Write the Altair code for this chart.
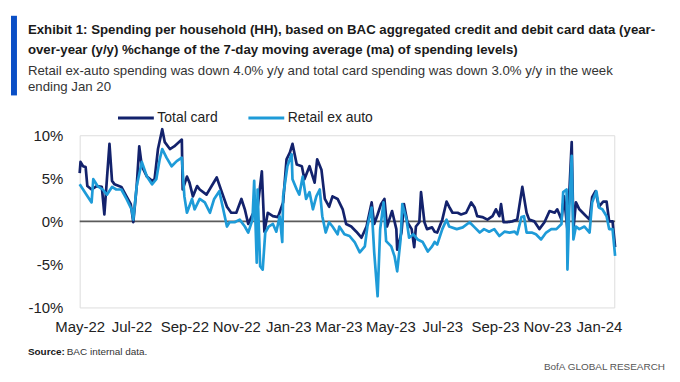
import altair as alt
import pandas as pd

# ---------------- data ----------------
start_date = "2022-05-01"
series_names = ["Total card", "Retail ex auto"]
series_colors = ["#13226C", "#1E9BD8"]

# days since 2022-05-01 and y/y % change
total_days = [0,1,4,7,9,14,20,26,29,32,35,38,41,49,55,60,63,67,70,73,79,85,88,92,97,100,106,111,120,121,
              126,129,133,138,141,149,155,161,167,173,178,184,190,194,198,203,209,214,217,221,227,233,239,243,
              247,250,255,261,264,270,276,279,284,288,293,297,303,309,313,319,325,331,337,343,346,350,354,358,
              361,367,372,373,378,381,385,390,393,395,399,401,405,408,414,417,420,426,431,434,438,444,448,454,
              460,464,467,473,479,485,489,493,495,498,502,508,514,520,525,528,534,540,546,552,558,561,566,569,
              573,575,578,580,583,587,593,599,602,606,610,615,619,622,626,629]
total_vals = [5.6,6.9,6.4,6.3,4.1,3.7,4.1,4.0,0.8,4.9,9.0,4.7,4.3,4.0,2.9,2.0,-0.1,4.1,8.7,6.4,5.2,4.7,4.9,8.4,
              10.7,9.2,8.4,8.7,9.5,3.7,5.2,4.5,2.9,4.1,3.7,3.1,4.1,5.1,3.4,1.7,1.0,1.0,2.6,1.4,-0.3,0.8,1.6,5.8,
              -1.2,1.0,0.6,0.5,2.2,7.2,8.0,9.0,6.6,6.4,4.9,6.4,4.5,7.2,6.0,2.6,1.7,2.9,2.6,1.4,-0.3,-0.6,-1.2,
              -1.9,-0.6,2.2,-0.3,0.8,2.0,2.6,-0.6,1.2,-0.9,-3.3,-1.3,2.0,-0.1,-0.9,-3.0,-0.6,-0.1,3.4,-0.1,-0.9,
              -0.7,-1.2,-1.3,0.2,2.3,1.7,1.0,1.0,0.8,1.0,2.2,1.6,0.6,0.5,0.2,0.6,1.4,0.6,2.0,-0.1,-0.1,0.0,0.2,
              4.0,1.0,0.2,0.0,-0.9,-0.1,1.2,1.0,1.4,0.2,2.9,-1.0,2.9,9.2,-0.9,2.2,1.4,0.8,0.2,2.8,3.5,1.7,2.3,
              2.3,0.0,0.0,-3.0]

retail_days = [0,4,8,14,16,21,27,32,38,43,49,55,61,63,67,73,79,85,90,94,97,102,108,114,120,123,126,132,135,
               141,147,153,158,164,168,173,176,182,188,194,198,203,205,208,209,212,215,218,222,227,231,235,238,
               239,244,249,250,255,258,262,266,270,274,278,282,285,289,293,297,303,305,311,317,323,329,335,338,
               343,346,350,353,357,360,366,370,373,377,379,384,387,392,397,403,409,414,417,420,426,431,434,443,
               450,458,464,470,475,481,487,493,499,505,511,514,519,522,525,531,536,542,548,554,560,566,568,572,
               573,575,578,580,583,587,593,599,602,607,610,614,619,622,626,629]
retail_vals = [4.3,3.7,3.1,2.2,4.9,4.1,3.7,3.1,4.0,3.7,3.7,2.6,1.4,0.2,4.1,6.9,5.2,4.3,4.9,7.2,8.4,7.4,6.4,7.0,
               7.4,2.9,1.0,2.6,1.4,2.6,2.2,1.0,2.6,3.5,1.7,-0.6,-0.1,-0.1,0.2,-0.6,-1.3,0.2,4.7,-4.8,3.7,-5.2,
               -5.6,-1.3,-0.6,-0.3,-1.2,0.6,-2.4,2.9,6.4,7.8,4.9,3.7,3.1,5.2,2.6,3.4,1.4,2.9,3.7,0.6,-1.3,-0.1,
               -0.6,-1.5,-0.6,-1.5,-1.7,-2.4,-3.6,-2.9,-0.6,1.6,-3.6,-8.7,-0.9,2.2,-2.3,-2.9,-4.1,-5.8,-2.1,2.0,
               0.2,-1.9,-1.5,-2.1,-2.4,-3.5,-2.9,-2.4,-2.7,-0.9,0.2,-0.6,-0.9,-0.7,-0.1,-0.7,-1.3,-0.9,-1.2,-0.9,
               -1.7,-1.2,-1.3,-1.2,-1.5,0.5,0.6,-1.3,-1.3,-1.5,-2.1,-1.3,-0.9,-0.9,-0.3,3.4,3.7,-5.6,1.0,7.6,
               -2.1,-0.6,-0.9,-0.6,-1.3,2.2,3.5,1.6,1.4,0.6,-0.9,-0.9,-4.0]

y_ticks = [-10, -5, 0, 5, 10]
x_tick_months = [(2022, 5), (2022, 7), (2022, 9), (2022, 11), (2023, 1), (2023, 3),
                 (2023, 5), (2023, 7), (2023, 9), (2023, 11), (2024, 1)]
x_end_day = 629

title_lines = ["Exhibit 1: Spending per household (HH), based on BAC aggregated credit and debit card data (year-",
               "over-year (y/y) %change of the 7-day moving average (ma) of spending levels)"]
subtitle_lines = ["Retail ex-auto spending was down 4.0% y/y and total card spending was down 3.0% y/y in the week",
                  "ending Jan 20"]
source_label = "Source:"
source_text = "BAC internal data."
brand_text = "BofA GLOBAL RESEARCH"

# ---------------- build table ----------------
t0 = pd.Timestamp(start_date)
df = pd.concat([
    pd.DataFrame({"date": t0 + pd.to_timedelta(total_days, unit="D"), "value": total_vals,
                  "series": series_names[0]}),
    pd.DataFrame({"date": t0 + pd.to_timedelta(retail_days, unit="D"), "value": retail_vals,
                  "series": series_names[1]}),
], ignore_index=True)

zero_df = pd.DataFrame({"start": [t0], "end": [t0 + pd.Timedelta(days=x_end_day)], "zero": [0]})

FONT = "Liberation Sans, Arial, sans-serif"
W, H = 537, 173

x_scale = alt.Scale(domain=[alt.DateTime(year=2022, month=5, date=1),
                            alt.DateTime(year=2024, month=1, date=19)])
y_scale = alt.Scale(domain=[-10, 10], nice=False, zero=False)
color_scale = alt.Scale(domain=series_names, range=series_colors)

x_axis = alt.Axis(values=[alt.DateTime(year=y, month=m, date=1) for y, m in x_tick_months],
                  format="%b-%y", title=None, domain=False, ticks=False, tickSize=0, grid=False,
                  labelFont=FONT, labelFontSize=15, labelColor="#222", labelPadding=12,
                  labelFlush=False, labelOverlap=False)
y_axis = alt.Axis(values=y_ticks, labelExpr="datum.value + '%'", title=None, domain=False,
                  ticks=False, tickSize=0, grid=False, labelFont=FONT, labelFontSize=15,
                  labelColor="#222", labelPadding=17)

legend = alt.Legend(title=None, orient="none", legendX=37, legendY=-37, direction="horizontal",
                    symbolType="stroke", symbolSize=1296, symbolStrokeWidth=3, labelOffset=2,
                    columnPadding=24, labelFont=FONT, labelFontSize=14, labelColor="#222")

base = alt.Chart(df)

zero_rule = alt.Chart(zero_df).mark_rule(color="#5a5a5a", strokeWidth=1.6).encode(
    x=alt.X("start:T", scale=x_scale, axis=x_axis),
    x2="end:T",
    y=alt.Y("zero:Q", scale=y_scale, axis=y_axis),
)

def series_line(name):
    return base.transform_filter(alt.datum.series == name).mark_line(
        strokeWidth=2.7, strokeJoin="round").encode(
        x=alt.X("date:T", scale=x_scale, axis=x_axis),
        y=alt.Y("value:Q", scale=y_scale, axis=y_axis),
        color=alt.Color("series:N", scale=color_scale, legend=legend),
    )

one = alt.Data(values=[{"k": 1}])

bar = alt.Chart(one).mark_rect(color="#0A4FC6").encode(
    x=alt.value(-69), x2=alt.value(-63), y=alt.value(-120), y2=alt.value(-40))

title_mark = alt.Chart(one).mark_text(
    text=title_lines, align="left", baseline="alphabetic", font=FONT, fontSize=13.3,
    fontWeight="bold", color="#1a1a1a", lineHeight=20).encode(
    x=alt.value(-52), y=alt.value(-102))

subtitle_mark = alt.Chart(one).mark_text(
    text=subtitle_lines, align="left", baseline="alphabetic", font=FONT, fontSize=13.3,
    color="#333", lineHeight=17).encode(
    x=alt.value(-52), y=alt.value(-61))

source_bold = alt.Chart(one).mark_text(
    text=source_label, align="left", baseline="alphabetic", font=FONT, fontSize=10,
    fontWeight="bold", color="#1a1a1a").encode(x=alt.value(-52), y=alt.value(221))

source_rest = alt.Chart(one).mark_text(
    text=source_text, align="left", baseline="alphabetic", font=FONT, fontSize=10,
    color="#333").encode(x=alt.value(-13), y=alt.value(221))

brand = alt.Chart(one).mark_text(
    text=brand_text, align="right", baseline="alphabetic", font=FONT, fontSize=10,
    color="#555").encode(x=alt.value(588), y=alt.value(236))

chart = alt.layer(
    zero_rule, series_line(series_names[0]), series_line(series_names[1]),
    bar, title_mark, subtitle_mark, source_bold, source_rest, brand,
).resolve_scale(x="shared", y="shared").properties(
    width=W, height=H,
    autosize=alt.AutoSizeParams(type="none"),
    padding={"left": 72, "top": 127, "right": 58, "bottom": 64},
).configure_view(stroke=None).configure(background="white")

chart.save("out.html", embed_options={"renderer": "svg", "actions": False})
